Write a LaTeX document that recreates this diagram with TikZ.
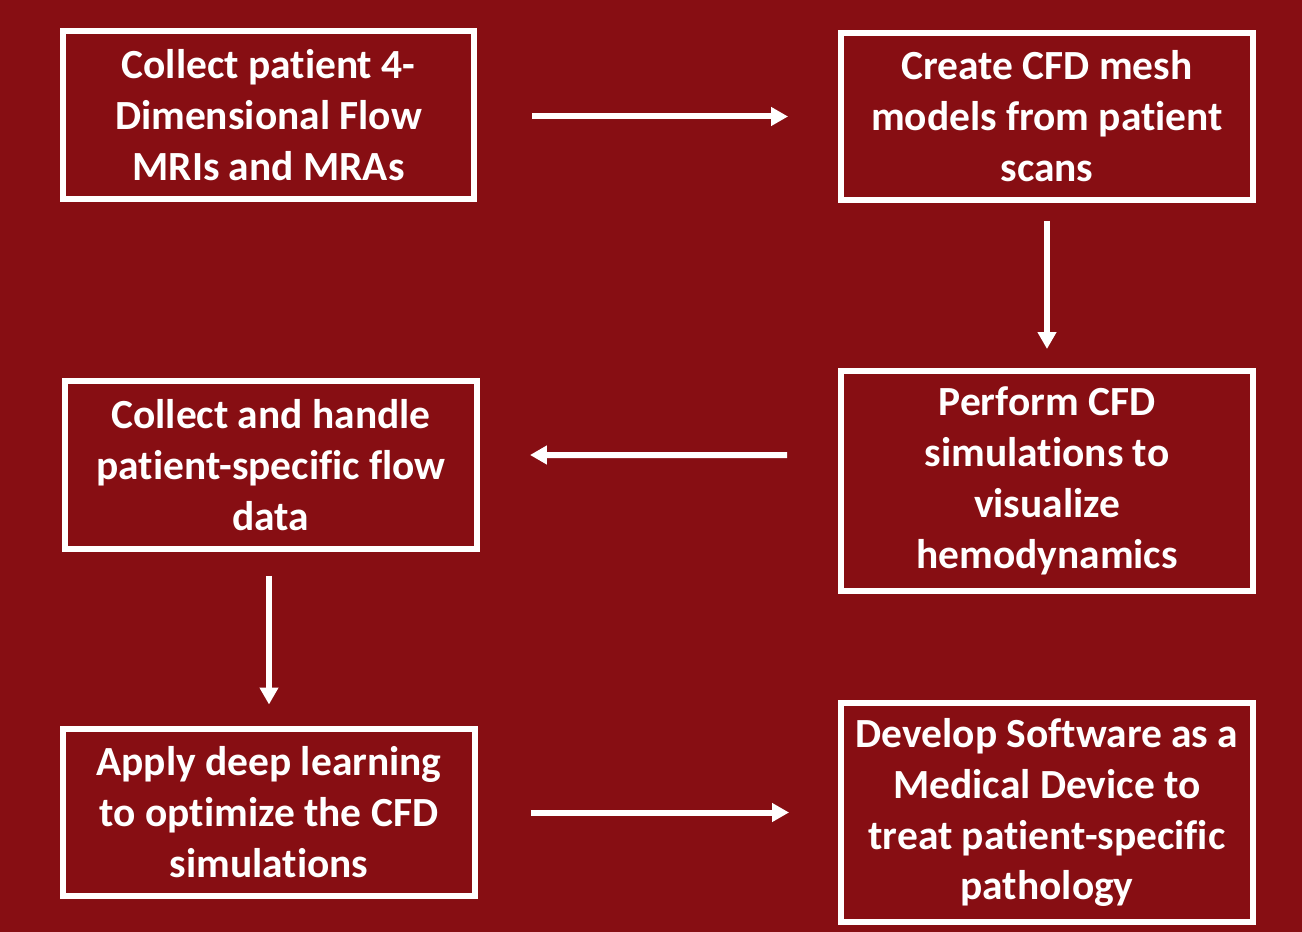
\documentclass[tikz,border=0pt]{standalone}
\usepackage{fontspec}
\setmainfont[Ligatures=NoCommon]{Carlito}
\usetikzlibrary{arrows.meta}
\usetikzlibrary{positioning}
\definecolor{bgred}{RGB}{135,14,19}
\tikzset{
  stepbox/.style={draw=white, line width=0.12cm, text=white, align=center,
    minimum width=8.24cm, minimum height=3.36cm, inner sep=0pt,
    font=\bfseries\fontsize{23.6}{29}\selectfont},
  tallbox/.style={stepbox, minimum height=4.4cm},
  flow/.style={draw=white, line width=0.12cm,
    -{Triangle[length=0.34cm, width=0.36cm]}}
}
\begin{document}
\begin{tikzpicture}[x=0.02cm, y=-0.02cm]
\fill[bgred] (0,0) rectangle (1302,932);
\useasboundingbox (0,0) rectangle (1302,932);
% left column
\node[stepbox] (s1) at (268.5,115) {Collect patient 4-\\Dimensional Flow\\MRIs and MRAs};
\node[stepbox] (s4) at (271,465) {Collect and handle\\patient-specific flow\\data};
\node[stepbox] (s5) at (269,812.5) {Apply deep learning\\to optimize the CFD\\simulations};
% right column
\node[stepbox, minimum height=3.34cm] (s2) at (1047,116.5) {Create CFD mesh\\models from patient\\scans};
\node[tallbox] (s3) at (1047,481) {Perform CFD\\simulations to\\visualize\\hemodynamics};
\node[tallbox, minimum height=4.38cm] (s6) at (1047,812.5) {Develop Software as a\\Medical Device to\\treat patient-specific\\pathology};
% arrows
\draw[flow, shorten <=1.1cm, shorten >=1.0cm] (s2.west -| s1.east) -- (s2.west);
\draw[flow, shorten <=0.36cm, shorten >=0.38cm] (s2.south) -- (s3.north);
\draw[flow, shorten <=1.02cm, shorten >=1.0cm] ([yshift=0.52cm]s3.west) -- ([yshift=0.2cm]s4.east);
\draw[flow, shorten <=0.48cm, shorten >=0.42cm] (s4.south -| s5.north) -- (s5.north);
\draw[flow, shorten <=1.06cm, shorten >=0.98cm] (s5.east) -- (s6.west);
\end{tikzpicture}
\end{document}
